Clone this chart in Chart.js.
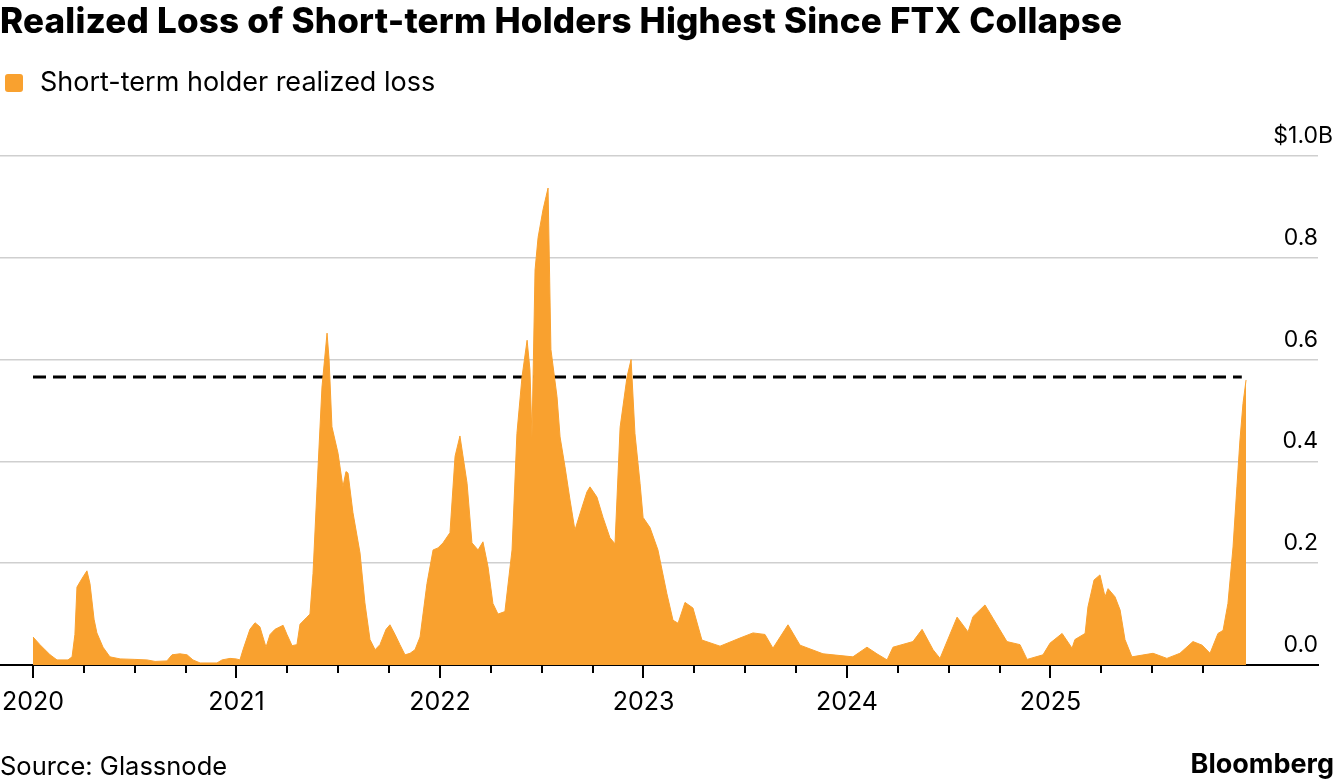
<!DOCTYPE html>
<html>
<head>
<meta charset="utf-8">
<script src="https://cdn.jsdelivr.net/npm/chart.js@4.4.1/dist/chart.umd.min.js"></script>
<style>
  html, body { margin: 0; padding: 0; background: #fff; }
  body { width: 1336px; height: 784px; position: relative; overflow: hidden; font-family: Inter, "Liberation Sans", Arial, sans-serif; color: #000; }
  #title { position: absolute; left: 0; top: 0px; font-size: 35px; line-height: 40px; font-weight: 800; letter-spacing: 0.2px; white-space: nowrap; }
  #legend { position: absolute; left: 5px; top: 65px; font-size: 27px; line-height: 34px; white-space: nowrap; }
  #legend .sw { display: inline-block; width: 18px; height: 18px; border-radius: 3px; background: #f9a12f; vertical-align: -1px; margin-right: 17px; }
  #source { position: absolute; left: 0; top: 750px; font-size: 25.5px; line-height: 32px; white-space: nowrap; }
  #brand { position: absolute; right: 2px; top: 748px; font-size: 27px; line-height: 32px; font-weight: 700; white-space: nowrap; }
  #wrap { position: absolute; left: 0; top: 0; width: 1336px; height: 784px; }
</style>
</head>
<body>
<div id="wrap"><canvas id="chart"></canvas></div>
<div id="title">Realized Loss of Short-term Holders Highest Since FTX Collapse</div>
<div id="legend"><span class="sw"></span>Short-term holder realized loss</div>
<div id="source">Source: Glassnode</div>
<div id="brand">Bloomberg</div>
<script>
// time as decimal years, loss in $ billions
const years = [
  2020.000, 2020.034, 2020.084, 2020.118, 2020.172, 2020.192, 2020.206, 2020.216, 2020.241, 2020.265,
  2020.280, 2020.300, 2020.314, 2020.344, 2020.378, 2020.428, 2020.501, 2020.560, 2020.600, 2020.658,
  2020.683, 2020.722, 2020.757, 2020.786, 2020.821, 2020.904, 2020.929, 2020.968, 2020.998, 2021.017,
  2021.032, 2021.066, 2021.091, 2021.115, 2021.145, 2021.165, 2021.189, 2021.229, 2021.248, 2021.273,
  2021.297, 2021.312, 2021.346, 2021.361, 2021.376, 2021.396, 2021.420, 2021.445, 2021.455, 2021.469,
  2021.499, 2021.523, 2021.538, 2021.548, 2021.572, 2021.607, 2021.631, 2021.656, 2021.681, 2021.705,
  2021.735, 2021.754, 2021.779, 2021.803, 2021.828, 2021.853, 2021.877, 2021.902, 2021.936, 2021.966,
  2021.990, 2022.015, 2022.049, 2022.074, 2022.098, 2022.133, 2022.157, 2022.187, 2022.211, 2022.236,
  2022.260, 2022.285, 2022.319, 2022.354, 2022.378, 2022.403, 2022.428, 2022.442, 2022.452, 2022.467,
  2022.482, 2022.506, 2022.521, 2022.531, 2022.545, 2022.575, 2022.590, 2022.614, 2022.639, 2022.663,
  2022.698, 2022.722, 2022.737, 2022.771, 2022.801, 2022.835, 2022.860, 2022.885, 2022.919, 2022.939,
  2022.958, 2022.983, 2022.998, 2023.032, 2023.071, 2023.115, 2023.145, 2023.170, 2023.204, 2023.243,
  2023.287, 2023.376, 2023.474, 2023.538, 2023.597, 2023.636, 2023.710, 2023.769, 2023.882, 2024.029,
  2024.098, 2024.147, 2024.197, 2024.226, 2024.324, 2024.369, 2024.423, 2024.457, 2024.541, 2024.595,
  2024.619, 2024.678, 2024.717, 2024.786, 2024.850, 2024.885, 2024.963, 2024.998, 2025.057, 2025.106,
  2025.120, 2025.170, 2025.184, 2025.214, 2025.243, 2025.268, 2025.283, 2025.317, 2025.342, 2025.366,
  2025.400, 2025.504, 2025.572, 2025.636, 2025.700, 2025.745, 2025.784, 2025.823, 2025.848, 2025.872,
  2025.897, 2025.916, 2025.931, 2025.946, 2025.961
];
const loss = [
  0.055, 0.040, 0.020, 0.010, 0.010, 0.016, 0.060, 0.153, 0.170, 0.185,
  0.160, 0.090, 0.063, 0.035, 0.016, 0.012, 0.011, 0.010, 0.007, 0.008,
  0.020, 0.022, 0.020, 0.010, 0.004, 0.004, 0.010, 0.013, 0.012, 0.010,
  0.030, 0.070, 0.083, 0.075, 0.035, 0.060, 0.070, 0.078, 0.060, 0.038,
  0.040, 0.080, 0.094, 0.100, 0.180, 0.350, 0.546, 0.652, 0.600, 0.468,
  0.416, 0.350, 0.380, 0.377, 0.300, 0.220, 0.122, 0.050, 0.030, 0.040,
  0.070, 0.079, 0.060, 0.040, 0.020, 0.023, 0.030, 0.055, 0.160, 0.226,
  0.230, 0.240, 0.260, 0.410, 0.450, 0.357, 0.240, 0.226, 0.242, 0.193,
  0.121, 0.100, 0.105, 0.226, 0.455, 0.566, 0.638, 0.580, 0.448, 0.776,
  0.840, 0.894, 0.920, 0.937, 0.620, 0.527, 0.448, 0.390, 0.324, 0.265,
  0.310, 0.340, 0.350, 0.330, 0.290, 0.250, 0.238, 0.467, 0.566, 0.600,
  0.455, 0.357, 0.290, 0.270, 0.226, 0.140, 0.088, 0.082, 0.123, 0.112,
  0.049, 0.037, 0.053, 0.063, 0.060, 0.033, 0.079, 0.039, 0.022, 0.016,
  0.035, 0.022, 0.010, 0.035, 0.046, 0.070, 0.030, 0.013, 0.094, 0.065,
  0.095, 0.118, 0.092, 0.046, 0.040, 0.011, 0.020, 0.043, 0.062, 0.033,
  0.050, 0.062, 0.114, 0.167, 0.177, 0.134, 0.150, 0.134, 0.108, 0.050,
  0.016, 0.023, 0.013, 0.023, 0.046, 0.039, 0.023, 0.062, 0.068, 0.121,
  0.232, 0.350, 0.442, 0.514, 0.560
];
// FTX-collapse reference level
const ftxLevel = 0.566;
const ftxSpan = [2020.0, 2025.94];
const yTicks = [0, 0.2, 0.4, 0.6, 0.8, 1.0];
const yearTicks = [2020, 2021, 2022, 2023, 2024, 2025];
const quarterTicks = [];
yearTicks.forEach(y => [0, 0.25, 0.5, 0.75].forEach(q => quarterTicks.push(y + q)));

const orange = '#f9a12f';
const font = 'Inter, "Liberation Sans", Arial, sans-serif';

const axisDecor = {
  id: 'axisDecor',
  afterDraw(chart) {
    const ctx = chart.ctx;
    const x = chart.scales.x, y = chart.scales.y;
    const bottom = chart.chartArea.bottom;
    ctx.save();
    // tick marks: long on years, short on quarters
    ctx.strokeStyle = '#000';
    ctx.lineWidth = 2;
    quarterTicks.forEach(t => {
      const px = Math.round(x.getPixelForValue(t));
      const len = Number.isInteger(t) ? 13 : 8;
      ctx.beginPath();
      ctx.moveTo(px, bottom);
      ctx.lineTo(px, bottom + len);
      ctx.stroke();
    });
    // y labels above grid lines, right side
    ctx.font = '23px ' + font;
    ctx.fillStyle = '#000';
    ctx.textBaseline = 'alphabetic';
    const right = chart.chartArea.right;
    yTicks.forEach(v => {
      const py = y.getPixelForValue(v) - 13;
      const top = v === yTicks[yTicks.length - 1];
      ctx.textAlign = 'right';
      ctx.fillText((top ? '$' : '') + v.toFixed(1), right, py);
      if (top) {
        ctx.textAlign = 'left';
        ctx.fillText('B', right, py);
      }
    });
    ctx.restore();
  }
};

new Chart(document.getElementById('chart'), {
  type: 'line',
  data: {
    datasets: [
      {
        label: 'Short-term holder realized loss',
        data: years.map((t, i) => ({ x: t, y: loss[i] })),
        backgroundColor: orange,
        borderColor: orange,
        borderWidth: 1,
        fill: 'origin',
        pointRadius: 0,
        tension: 0
      },
      {
        label: 'FTX level',
        data: ftxSpan.map(t => ({ x: t, y: ftxLevel })),
        borderColor: '#000',
        borderWidth: 3,
        borderDash: [13, 7],
        pointRadius: 0,
        fill: false
      }
    ]
  },
  options: {
    responsive: true,
    maintainAspectRatio: false,
    animation: false,
    layout: { padding: { top: 156, right: 18, left: 0, bottom: 0 } },
    plugins: {
      legend: { display: false },
      tooltip: { enabled: false }
    },
    scales: {
      x: {
        type: 'linear',
        min: 2020 - 33 / 203.5,
        max: 2020 + (1318 - 33) / 203.5,
        afterBuildTicks: s => { s.ticks = quarterTicks.map(v => ({ value: v })); },
        afterFit: s => { s.height = 119; s.paddingLeft = 0; s.paddingRight = 0; },
        grid: { display: false },
        border: { display: true, color: '#000', width: 2 },
        ticks: {
          autoSkip: false,
          maxRotation: 0,
          padding: 14,
          color: '#000',
          font: { family: font, size: 25 },
          callback: v => Number.isInteger(v) ? String(v) : ''
        }
      },
      y: {
        position: 'right',
        min: 0,
        max: 1.0,
        afterBuildTicks: s => { s.ticks = yTicks.map(v => ({ value: v })); },
        afterFit: s => { s.width = 0; },
        grid: { color: '#cfcfcf', lineWidth: 1.5, drawTicks: false },
        border: { display: false },
        ticks: { display: false }
      }
    }
  },
  plugins: [axisDecor]
});
</script>
</body>
</html>
